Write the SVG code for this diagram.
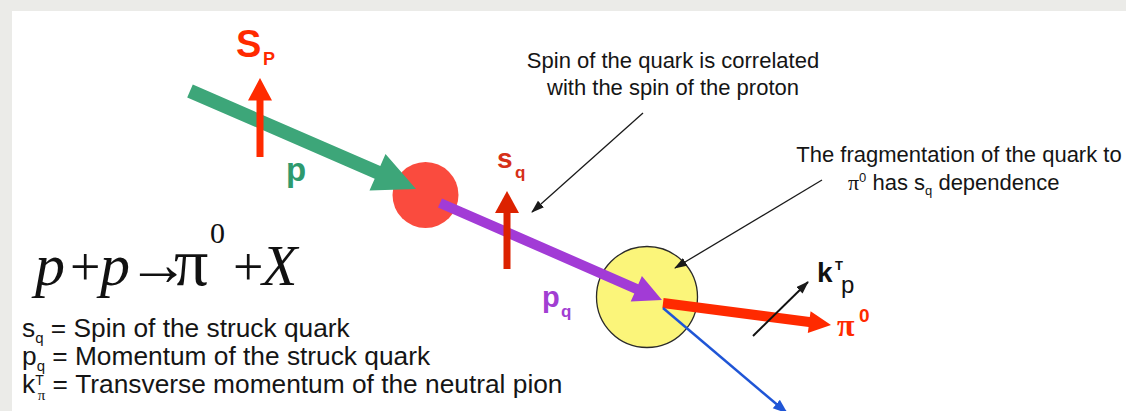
<svg xmlns="http://www.w3.org/2000/svg" width="1126" height="411" viewBox="0 0 1126 411">
<defs>
<style>
.ann{font-family:"Liberation Sans",Arial,sans-serif;font-size:22px;fill:#151515}
.leg{font-family:"Liberation Sans",Arial,sans-serif;font-size:26.3px;fill:#151515}
.b{font-family:"Liberation Sans",Arial,sans-serif;font-weight:bold}
.eq{font-family:"Liberation Serif","Times New Roman",serif;font-size:58px;fill:#111}
.thin{stroke:#1a1a1a;stroke-width:1.3;fill:none;marker-end:url(#ah)}
</style>
<marker id="ah" markerUnits="userSpaceOnUse" markerWidth="14" markerHeight="10" refX="12" refY="4.5" orient="auto">
<path d="M0,0 L13,4.5 L0,9 z" fill="#1a1a1a"/>
</marker>
<marker id="ahb" markerUnits="userSpaceOnUse" markerWidth="16" markerHeight="12" refX="14" refY="5.5" orient="auto">
<path d="M0,0 L15,5.5 L0,11 z" fill="#1f55d6"/>
</marker>
</defs>
<rect x="0" y="0" width="1126" height="411" fill="#ebebe8"/>
<rect x="12" y="11" width="1114" height="400" fill="#ffffff"/>

<g id="nucleon">
<circle cx="425.5" cy="195" r="33" fill="#fa4b3e"/>
</g>
<g id="fragmentation">
<circle cx="647" cy="297" r="50.5" fill="#fbf57a" stroke="#2a2a2a" stroke-width="1.3"/>
</g>

<g id="connectors">
<polygon fill="#3da679" points="192.8,84.6 380.3,165.9 385.5,154.0 416,189 369.5,190.6 374.7,178.7 187.2,97.4"/>
<polygon fill="#a23bd6" points="442.0,198.4 638.3,284.2 641.9,276.0 662,300 630.7,301.6 634.3,293.4 438.0,207.6"/>
<polygon fill="#ff2a00" points="663.6,298.0 809.8,317.1 810.6,311.2 831,325 807.8,333.0 808.6,327.1 662.4,308.0"/>
<line x1="663" y1="308" x2="787" y2="413" stroke="#1f55d6" stroke-width="2.5" marker-end="url(#ahb)"/>
<rect x="256.5" y="99" width="7" height="58" fill="#ff2a00"/>
<polygon fill="#ff2a00" points="248,100.5 272,100.5 260,78"/>
<rect x="503.5" y="211" width="7" height="58" fill="#dc2200"/>
<polygon fill="#dc2200" points="495,213 519,213 507,191"/>
<line class="thin" x1="643" y1="113" x2="532" y2="212"/>
<line class="thin" x1="822" y1="180" x2="675" y2="268"/>
<line x1="753" y1="336" x2="808" y2="282" stroke="#111" stroke-width="2" marker-end="url(#ah)"/>
</g>

<g id="labels">
<text class="b" x="236" y="57" font-size="38" fill="#ff2a00">S<tspan x="263" y="65" font-size="18">P</tspan></text>
<text class="b" x="286" y="181" font-size="33" fill="#2e9a6e">p</text>
<text class="b" x="497" y="168" font-size="28" fill="#d63018">s<tspan x="515" y="178" font-size="17">q</tspan></text>
<text class="b" x="542" y="307" font-size="29" fill="#a23ed2">p<tspan x="561" y="317" font-size="17">q</tspan></text>
<text x="837" y="336" font-family="Liberation Serif,serif" font-weight="bold" font-size="32" fill="#ff2a00">π<tspan x="859" y="322" font-family="Liberation Sans,sans-serif" font-size="19">0</tspan></text>
<text class="b" x="817" y="282" font-size="28" fill="#111">k<tspan x="835" y="270" font-size="13">T</tspan></text>
<text x="841" y="293" font-family="Liberation Sans,sans-serif" font-size="24" fill="#111">p</text>
</g>

<g id="equation">
<text class="eq" y="285"><tspan x="35" font-size="60" font-style="italic">p</tspan><tspan x="70" font-size="54">+</tspan><tspan x="100" font-size="60" font-style="italic">p</tspan><tspan x="127" font-size="62">→</tspan><tspan x="174" font-size="68">π</tspan><tspan x="210" y="243" font-size="30">0</tspan><tspan x="233" y="285" font-size="54">+</tspan><tspan x="262" font-style="italic">X</tspan></text>
</g>

<g id="annotation-spin">
<text class="ann" text-anchor="middle"><tspan x="673" y="68">Spin of the quark is correlated</tspan><tspan x="673" y="95">with the spin of the proton</tspan></text>
</g>
<g id="annotation-frag">
<text class="ann" x="959" y="162" text-anchor="middle">The fragmentation of the quark to</text>
<text class="ann" x="848" y="190"><tspan font-family="Liberation Serif,serif">π</tspan><tspan dy="-8" font-size="13">0</tspan><tspan dy="8"> has s</tspan><tspan dy="5" font-size="13">q</tspan><tspan dy="-5"> dependence</tspan></text>
</g>

<g id="legend" class="leg">
<text x="22" y="337">s<tspan dy="6" font-size="15">q</tspan><tspan dy="-6"> = Spin of the struck quark</tspan></text>
<text x="22" y="365">p<tspan dy="6" font-size="15">q</tspan><tspan dy="-6"> = Momentum of the struck quark</tspan></text>
<text x="22" y="393">k<tspan dy="-8" font-size="14">T</tspan><tspan dy="15" dx="-6" font-size="15" font-family="Liberation Serif,serif">π</tspan><tspan dy="-7"> = Transverse momentum of the neutral pion</tspan></text>
</g>
</svg>
